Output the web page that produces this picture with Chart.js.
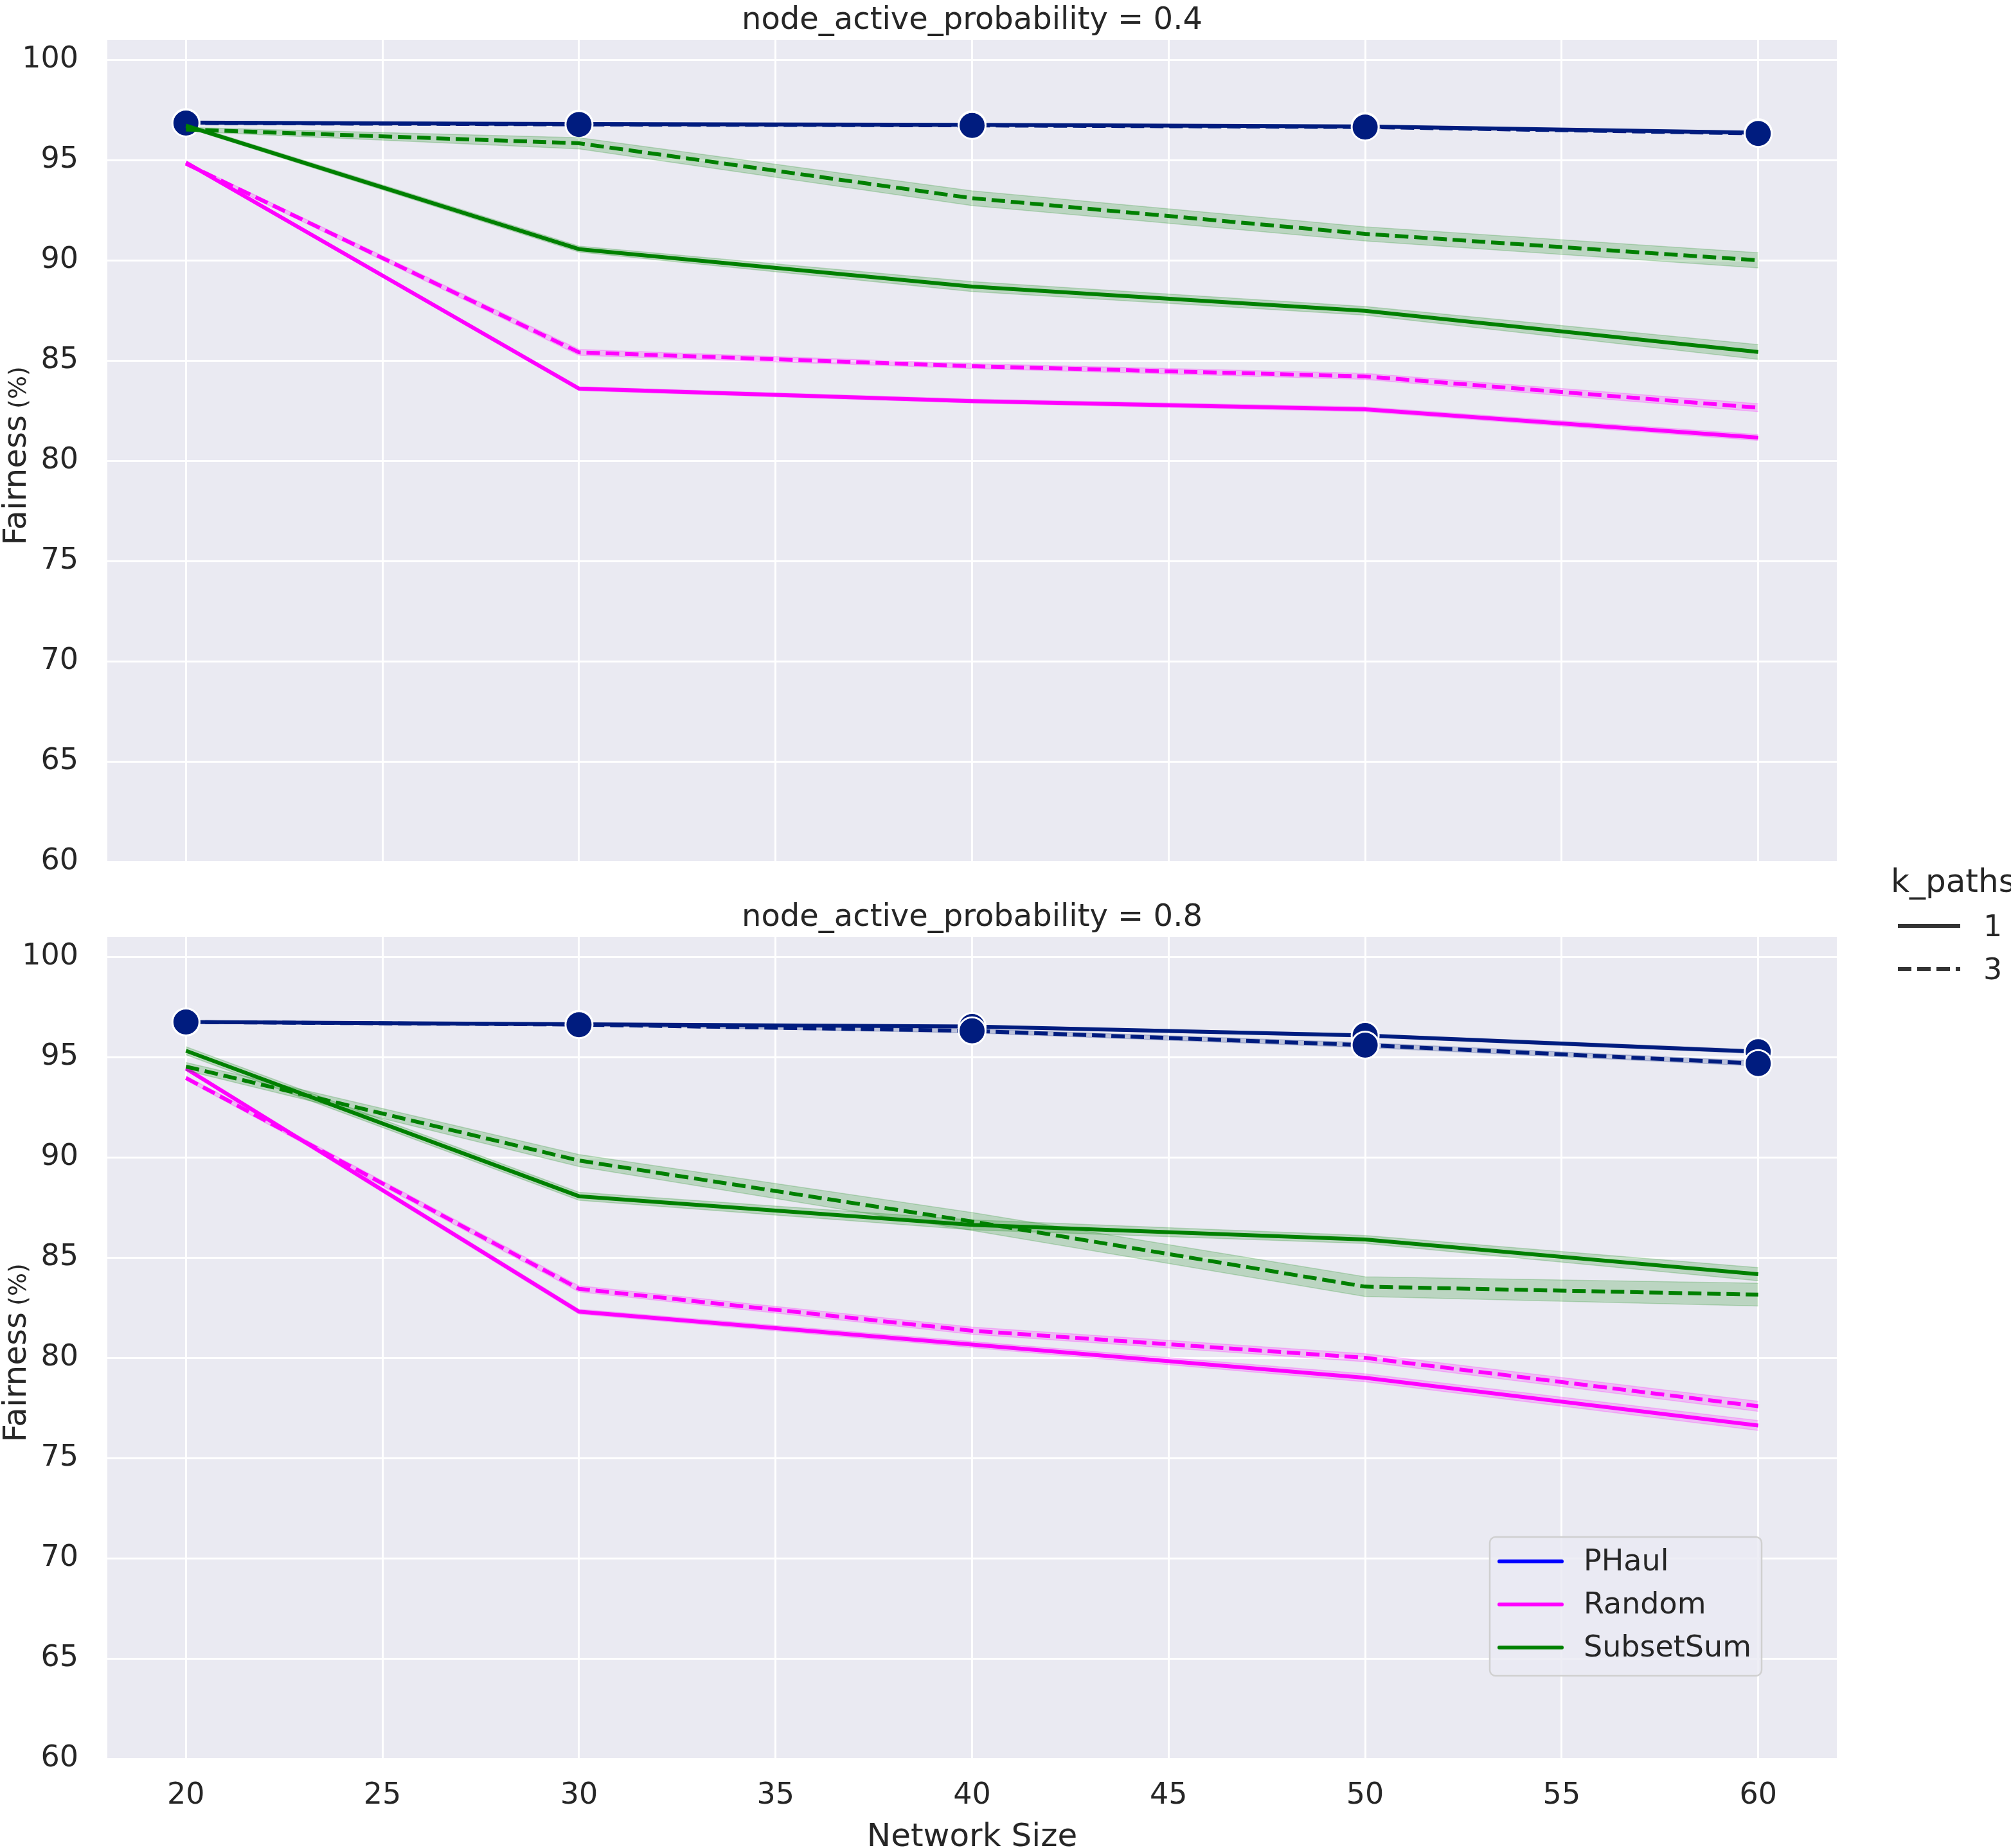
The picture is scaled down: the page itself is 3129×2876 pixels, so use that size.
<!DOCTYPE html>
<html>
<head>
<meta charset="utf-8">
<script src="https://cdn.jsdelivr.net/npm/chart.js@4.4.0/dist/chart.umd.min.js"></script>
<style>
  html, body { margin: 0; padding: 0; background: #fff; }
  body { width: 3129px; height: 2876px; position: relative; overflow: hidden; }
  canvas { position: absolute; left: 0; }
  /* top canvas starts above the page so the y-axis label padding fits */
  #topChart { top: -20px; }
  #bottomChart { top: 1341px; }
</style>
</head>
<body>
<canvas id="topChart" width="3129" height="1461"></canvas>
<canvas id="bottomChart" width="3129" height="1535"></canvas>
<script>
// x values and axis ticks
const sizes = [20, 30, 40, 50, 60];
const xTicks = [20, 25, 30, 35, 40, 45, 50, 55, 60];
const yTicks = [60, 65, 70, 75, 80, 85, 90, 95, 100];
const algorithms = ['PHaul', 'Random', 'SubsetSum'];
const kPaths = ['1', '3'];

// node_active_probability = 0.4 (mean fairness, %)
const phaulK1_p04 = [96.87, 96.80, 96.76, 96.68, 96.37];
const phaulK3_p04 = [96.85, 96.78, 96.73, 96.65, 96.33];
const randomK1_p04 = [94.88, 83.60, 82.98, 82.57, 81.16];
const randomK3_p04 = [94.82, 85.41, 84.72, 84.21, 82.65];
const subsetK1_p04 = [96.72, 90.56, 88.69, 87.48, 85.43];
const subsetK3_p04 = [96.53, 95.84, 93.10, 91.32, 90.00];

// node_active_probability = 0.8
const phaulK1_p08 = [96.75, 96.64, 96.53, 96.08, 95.27];
const phaulK3_p08 = [96.75, 96.62, 96.31, 95.60, 94.68];
const randomK1_p08 = [94.43, 82.30, 80.66, 79.00, 76.62];
const randomK3_p08 = [93.96, 83.44, 81.35, 80.00, 77.58];
const subsetK1_p08 = [95.32, 88.06, 86.63, 85.90, 84.17];
const subsetK3_p08 = [94.53, 89.84, 86.80, 83.55, 83.15];

// half widths of the confidence bands
const phaulCiK1_p04 = [0.05, 0.05, 0.05, 0.05, 0.06];
const phaulCiK3_p04 = [0.05, 0.05, 0.05, 0.05, 0.06];
const randomCiK1_p04 = [0.08, 0.10, 0.10, 0.12, 0.15];
const randomCiK3_p04 = [0.08, 0.15, 0.12, 0.15, 0.20];
const subsetCiK1_p04 = [0.10, 0.15, 0.25, 0.22, 0.37];
const subsetCiK3_p04 = [0.10, 0.28, 0.37, 0.35, 0.38];

const phaulCiK1_p08 = [0.05, 0.05, 0.06, 0.08, 0.10];
const phaulCiK3_p08 = [0.05, 0.05, 0.10, 0.12, 0.12];
const randomCiK1_p08 = [0.10, 0.12, 0.15, 0.20, 0.25];
const randomCiK3_p08 = [0.10, 0.15, 0.18, 0.20, 0.25];
const subsetCiK1_p08 = [0.20, 0.20, 0.25, 0.20, 0.33];
const subsetCiK3_p08 = [0.20, 0.30, 0.45, 0.49, 0.57];

const lineColors = { PHaul: '#001c7f', Random: '#ff00ff', SubsetSum: '#008000' };
const legendColors = { PHaul: '#0000ff', Random: '#ff00ff', SubsetSum: '#008000' };
const textColor = '#262626';
const font = 'DejaVu Sans';
const lineW = 6;
const dash = [21, 9];

function rgba(hex, a) {
  const n = parseInt(hex.slice(1), 16);
  return 'rgba(' + (n >> 16) + ',' + ((n >> 8) & 255) + ',' + (n & 255) + ',' + a + ')';
}

function buildDatasets(series) {
  const ds = [];
  series.forEach(s => {
    const col = lineColors[s.algo];
    const upper = s.mean.map((v, i) => ({ x: sizes[i], y: v + s.ci[i] }));
    const lower = s.mean.map((v, i) => ({ x: sizes[i], y: v - s.ci[i] }));
    ds.push({ data: upper, borderWidth: 1.5, borderColor: rgba(col, 0.2), pointRadius: 0, fill: false });
    ds.push({ data: lower, borderWidth: 1.5, borderColor: rgba(col, 0.2), pointRadius: 0,
              fill: '-1', backgroundColor: rgba(col, 0.2) });
    ds.push({
      data: s.mean.map((v, i) => ({ x: sizes[i], y: v })),
      borderColor: col,
      borderWidth: lineW,
      borderDash: s.k === '3' ? dash : [],
      fill: false,
      pointRadius: s.algo === 'PHaul' ? 21 : 0,
      pointBackgroundColor: col,
      pointBorderColor: '#ffffff',
      pointBorderWidth: 3
    });
  });
  // draw in array order (later ones on top)
  ds.forEach((d, i) => { d.order = -i; d.tension = 0; });
  return ds;
}

const bgPlugin = {
  id: 'bg',
  beforeDraw(chart) {
    const a = chart.chartArea, ctx = chart.ctx;
    ctx.save();
    ctx.fillStyle = '#eaeaf2';
    ctx.fillRect(a.left, a.top, a.right - a.left, a.bottom - a.top);
    ctx.restore();
  }
};

function drawYLabel(ctx, cy) {
  ctx.save();
  ctx.translate(40, cy + 8);
  ctx.rotate(-Math.PI / 2);
  ctx.fillStyle = textColor;
  ctx.textBaseline = 'alphabetic';
  ctx.textAlign = 'left';
  ctx.font = '50px "' + font + '"';
  const w1 = ctx.measureText('Fairness').width + 10;
  ctx.font = '38px "' + font + '"';
  const w2 = ctx.measureText('(%)').width;
  const x = -(w1 + w2) / 2;
  ctx.font = '50px "' + font + '"';
  ctx.fillText('Fairness', x, 0);
  ctx.font = '38px "' + font + '"';
  ctx.fillText('(%)', x + w1, 0);
  ctx.restore();
}

function textPlugin(title, isBottom) {
  return {
    id: 'texts',
    afterDraw(chart) {
      const a = chart.chartArea, ctx = chart.ctx;
      ctx.save();
      ctx.fillStyle = textColor;
      ctx.textAlign = 'center';
      ctx.textBaseline = 'alphabetic';
      ctx.font = '48px "' + font + '"';
      ctx.fillText(title, (a.left + a.right) / 2, a.top - 17);
      drawYLabel(ctx, (a.top + a.bottom) / 2);

      if (isBottom) {
        ctx.font = '50px "' + font + '"';
        ctx.textAlign = 'center';
        ctx.fillText('Network Size', (a.left + a.right) / 2, chart.height - 3);

        // hue legend inside the lower panel
        const bx = a.right - 540, by = a.bottom - 345, bw = 423, bh = 216;
        ctx.beginPath();
        ctx.roundRect(bx, by, bw, bh, 9);
        ctx.fillStyle = 'rgba(234,234,242,0.8)';
        ctx.fill();
        ctx.lineWidth = 2.5;
        ctx.strokeStyle = '#d0d0d0';
        ctx.stroke();
        ctx.lineCap = 'round';
        ctx.font = '46px "' + font + '"';
        ctx.textAlign = 'left';
        ctx.textBaseline = 'middle';
        algorithms.forEach((name, i) => {
          const y = by + 38 + i * 67;
          ctx.strokeStyle = legendColors[name];
          ctx.lineWidth = lineW;
          ctx.beginPath();
          ctx.moveTo(bx + 15, y);
          ctx.lineTo(bx + 112, y);
          ctx.stroke();
          ctx.fillStyle = textColor;
          ctx.fillText(name, bx + 146, y + 2);
        });

        // style legend outside on the right
        ctx.textBaseline = 'alphabetic';
        ctx.font = '50px "' + font + '"';
        ctx.fillStyle = textColor;
        ctx.fillText('k_paths', 2942, 47);
        ctx.font = '46px "' + font + '"';
        kPaths.forEach((k, i) => {
          const y = 100 + i * 67;
          ctx.strokeStyle = '#333333';
          ctx.lineWidth = lineW;
          ctx.lineCap = 'butt';
          ctx.setLineDash(k === '3' ? dash : []);
          ctx.beginPath();
          ctx.moveTo(2953, y);
          ctx.lineTo(3050, y);
          ctx.stroke();
          ctx.setLineDash([]);
          ctx.fillText(k, 3086, y + 16);
        });
      }
      ctx.restore();
    }
  };
}

function makeChart(id, series, title, isBottom) {
  return new Chart(document.getElementById(id), {
    type: 'line',
    data: { datasets: buildDatasets(series) },
    options: {
      responsive: false,
      animation: false,
      devicePixelRatio: 1,
      layout: { padding: { top: isBottom ? 117 : 82, right: 271, left: 0, bottom: 0 } },
      plugins: { legend: { display: false }, tooltip: { enabled: false } },
      scales: {
        x: {
          type: 'linear',
          min: 18,
          max: 62,
          afterBuildTicks: s => { s.ticks = xTicks.map(v => ({ value: v })); },
          // top panel: the 100px strip under its axis stays blank, under the lower canvas
          afterFit: s => { s.height = isBottom ? 139 : 100; },
          grid: { color: '#ffffff', lineWidth: 3, drawTicks: false },
          border: { display: false },
          ticks: {
            padding: 30,
            color: isBottom ? textColor : 'rgba(0,0,0,0)',
            font: { family: font, size: 46 }
          }
        },
        y: {
          type: 'linear',
          min: 60,
          max: 101,
          afterBuildTicks: s => { s.ticks = yTicks.map(v => ({ value: v })); },
          afterFit: s => { s.width = 167; },
          grid: { color: '#ffffff', lineWidth: 3, drawTicks: false },
          border: { display: false },
          ticks: { padding: 45, color: textColor, font: { family: font, size: 46 } }
        }
      }
    },
    plugins: [bgPlugin, textPlugin(title, isBottom)]
  });
}

makeChart('topChart', [
  { algo: 'PHaul', k: '1', mean: phaulK1_p04, ci: phaulCiK1_p04 },
  { algo: 'PHaul', k: '3', mean: phaulK3_p04, ci: phaulCiK3_p04 },
  { algo: 'Random', k: '1', mean: randomK1_p04, ci: randomCiK1_p04 },
  { algo: 'Random', k: '3', mean: randomK3_p04, ci: randomCiK3_p04 },
  { algo: 'SubsetSum', k: '1', mean: subsetK1_p04, ci: subsetCiK1_p04 },
  { algo: 'SubsetSum', k: '3', mean: subsetK3_p04, ci: subsetCiK3_p04 }
], 'node_active_probability = 0.4', false);

makeChart('bottomChart', [
  { algo: 'PHaul', k: '1', mean: phaulK1_p08, ci: phaulCiK1_p08 },
  { algo: 'PHaul', k: '3', mean: phaulK3_p08, ci: phaulCiK3_p08 },
  { algo: 'Random', k: '1', mean: randomK1_p08, ci: randomCiK1_p08 },
  { algo: 'Random', k: '3', mean: randomK3_p08, ci: randomCiK3_p08 },
  { algo: 'SubsetSum', k: '1', mean: subsetK1_p08, ci: subsetCiK1_p08 },
  { algo: 'SubsetSum', k: '3', mean: subsetK3_p08, ci: subsetCiK3_p08 }
], 'node_active_probability = 0.8', true);
</script>
</body>
</html>
